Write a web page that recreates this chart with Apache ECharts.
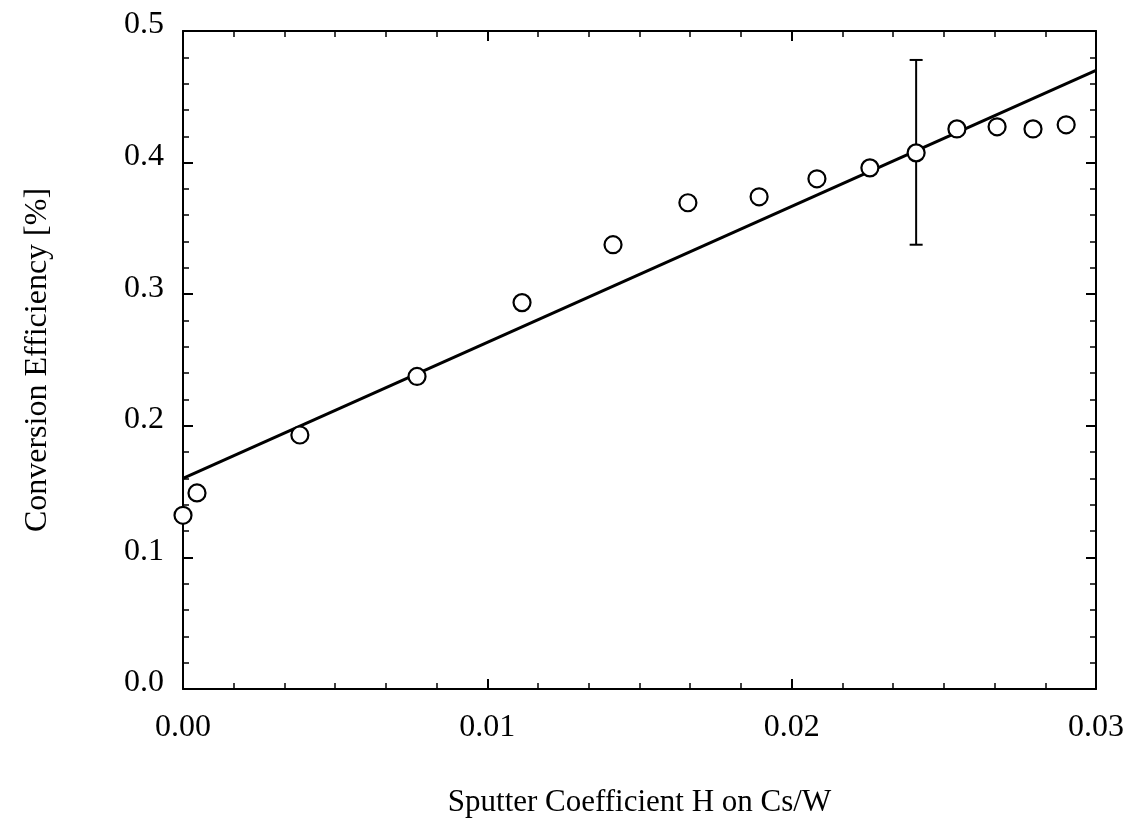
<!DOCTYPE html>
<html>
<head>
<meta charset="utf-8">
<script src="https://cdn.jsdelivr.net/npm/echarts@6/dist/echarts.min.js"></script>
<style>html,body{margin:0;padding:0;background:#fff;}#c{width:1131px;height:836px;}</style>
</head>
<body>
<div id="c"></div>
<script>
// Data
const xVals = [0.0000, 0.00046, 0.00384, 0.00769, 0.01114, 0.01413, 0.01659, 0.01893, 0.02083, 0.02257, 0.02409, 0.02543, 0.02675, 0.02793, 0.02902];
const yVals = [0.132, 0.149, 0.193, 0.2375, 0.2936, 0.3376, 0.3695, 0.374, 0.3877, 0.396, 0.4074, 0.4256, 0.4272, 0.4256, 0.4287];
const fitX = [0.0, 0.03];
const fitY = [0.16, 0.47];
const errX = [0.02409];
const errLow = [0.3376];
const errHigh = [0.478];
const xTitle = 'Sputter Coefficient H on Cs/W';
const yTitle = 'Conversion Efficiency [%]';

const FONT = '"Liberation Serif", "DejaVu Serif", serif';
const chart = echarts.init(document.getElementById('c'), null, {renderer: 'canvas'});

const axisCommon = {
  axisLine: {show: true, onZero: false, lineStyle: {color: '#000', width: 2}},
  axisTick: {show: true, inside: true, length: 10, lineStyle: {color: '#000', width: 2}},
  minorTick: {show: true, length: 6, lineStyle: {color: '#000', width: 1.5}},
  splitLine: {show: false},
  minorSplitLine: {show: false}
};

const option = {
  animation: false,
  backgroundColor: '#fff',
  grid: {left: 183, right: 35, top: 31, bottom: 147},
  xAxis: [
    Object.assign({
      type: 'value', min: 0, max: 0.03, interval: 0.01, position: 'bottom',
      name: xTitle, nameLocation: 'middle', nameGap: 98,
      nameTextStyle: {fontFamily: FONT, fontSize: 31, color: '#000'},
      axisLabel: {fontFamily: FONT, fontSize: 32, color: '#000', margin: 23,
        formatter: v => v.toFixed(2)}
    }, axisCommon, {minorTick: Object.assign({}, axisCommon.minorTick, {splitNumber: 6})}),
    Object.assign({
      type: 'value', min: 0, max: 0.03, interval: 0.01, position: 'top',
      axisLabel: {show: false}
    }, axisCommon, {minorTick: Object.assign({}, axisCommon.minorTick, {splitNumber: 6})})
  ],
  yAxis: [
    Object.assign({
      type: 'value', min: 0, max: 0.5, interval: 0.1, position: 'left',
      name: yTitle, nameLocation: 'middle', nameGap: 129, nameRotate: 90,
      nameTextStyle: {fontFamily: FONT, fontSize: 32, color: '#000'},
      axisLabel: {fontFamily: FONT, fontSize: 32, color: '#000', margin: 19,
        verticalAlign: 'bottom', lineHeight: 12,
        formatter: v => v.toFixed(1)}
    }, axisCommon, {minorTick: Object.assign({}, axisCommon.minorTick, {splitNumber: 5})}),
    Object.assign({
      type: 'value', min: 0, max: 0.5, interval: 0.1, position: 'right',
      axisLabel: {show: false}
    }, axisCommon, {minorTick: Object.assign({}, axisCommon.minorTick, {splitNumber: 5})})
  ],
  series: [
    {
      type: 'line', xAxisIndex: 0, yAxisIndex: 0,
      data: fitX.map((x, i) => [x, fitY[i]]),
      showSymbol: false, symbol: 'none',
      lineStyle: {color: '#000', width: 3}, z: 3
    },
    {
      type: 'custom', xAxisIndex: 0, yAxisIndex: 0,
      data: errX.map((x, i) => [x, errLow[i], errHigh[i]]),
      renderItem: function (params, api) {
        const lo = api.coord([api.value(0), api.value(1)]);
        const hi = api.coord([api.value(0), api.value(2)]);
        const w = 6.5;
        const st = {stroke: '#000', lineWidth: 2};
        return {type: 'group', children: [
          {type: 'line', shape: {x1: lo[0], y1: lo[1], x2: hi[0], y2: hi[1]}, style: st},
          {type: 'line', shape: {x1: lo[0] - w, y1: lo[1], x2: lo[0] + w, y2: lo[1]}, style: st},
          {type: 'line', shape: {x1: hi[0] - w, y1: hi[1], x2: hi[0] + w, y2: hi[1]}, style: st}
        ]};
      },
      z: 2
    },
    {
      type: 'scatter', xAxisIndex: 0, yAxisIndex: 0,
      data: xVals.map((x, i) => [x, yVals[i]]),
      symbol: 'circle', symbolSize: 17,
      itemStyle: {color: '#fff', borderColor: '#000', borderWidth: 2.2, opacity: 1},
      z: 4
    }
  ]
};
chart.setOption(option);
</script>
</body>
</html>
